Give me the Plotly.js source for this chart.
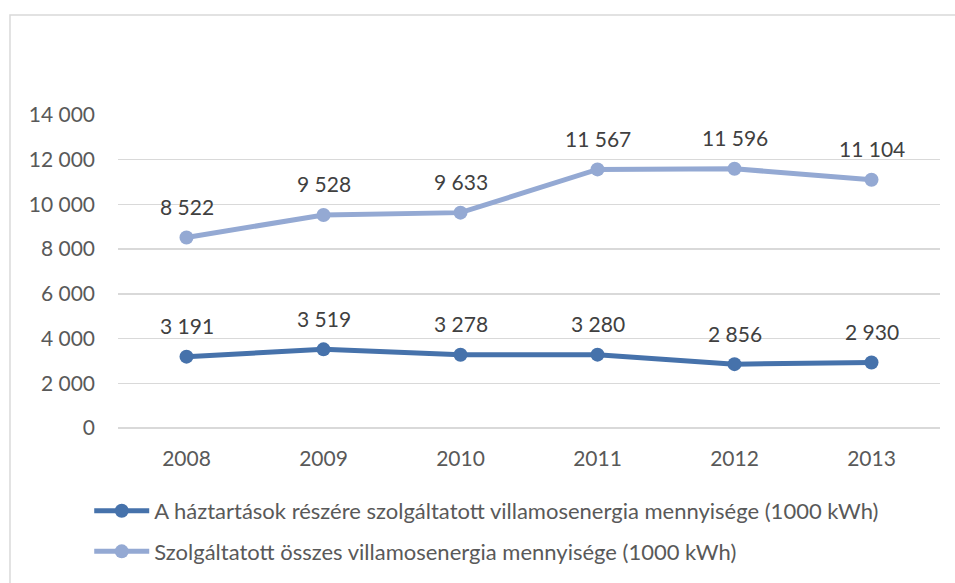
<!DOCTYPE html>
<html>
<head>
<meta charset="utf-8">
<script src="https://cdn.plot.ly/plotly-3.0.1.min.js"></script>
<style>
  html, body { margin: 0; padding: 0; background: #fff; }
  #chart { width: 955px; height: 583px; }
</style>
</head>
<body>
<div id="chart"></div>
<script>
const years = ["2008", "2009", "2010", "2011", "2012", "2013"];
const households = [3191, 3519, 3278, 3280, 2856, 2930];
const total = [8522, 9528, 9633, 11567, 11596, 11104];
const householdsName = "A háztartások részére szolgáltatott villamosenergia mennyisége (1000 kWh)";
const totalName = "Szolgáltatott összes villamosenergia mennyisége (1000 kWh)";

const darkBlue = "#4672ab";
const lightBlue = "#94a9d3";
const font = "Lato, 'Open Sans', sans-serif";

function fmt(v) {
  return String(v).replace(/\B(?=(\d{3})+(?!\d))/g, " ");
}

function series(name, values, color, group) {
  return {
    type: "scatter",
    mode: "lines+markers",
    name: name,
    legendgroup: group,
    x: years,
    y: values,
    line: { color: color, width: 5 },
    marker: { color: color, size: 14 },
    hoverinfo: "y"
  };
}

// data labels above each point (category index used for x)
function labels(values) {
  return values.map((v, i) => ({
    x: i, y: v, xref: "x", yref: "y",
    text: fmt(v), showarrow: false,
    yshift: 31,
    font: { family: font, size: 21, color: "#404040" }
  }));
}

const traces = [
  series(householdsName, households, darkBlue, "a"),
  series(totalName, total, lightBlue, "b")
];

const layout = {
  width: 955, height: 583,
  margin: { l: 118, r: 15, t: 115, b: 155, autoexpand: false },
  paper_bgcolor: "#fff", plot_bgcolor: "#fff",
  separators: ", ",
  font: { family: font, size: 21, color: "#595959" },
  showlegend: true,
  legend: {
    orientation: "v", x: -0.035, xanchor: "left", y: -0.198, yanchor: "top",
    font: { family: font, size: 22, color: "#595959" },
    tracegroupgap: 9, itemwidth: 55
  },
  xaxis: {
    type: "category", range: [-0.5, 5.5],
    showgrid: false, zeroline: false, showline: false,
    ticks: "", ticklabelstandoff: 16,
    tickfont: { family: font, size: 21, color: "#595959" }
  },
  yaxis: {
    range: [0, 14000], dtick: 2000, tickformat: ",",
    showgrid: true, gridcolor: "#d9d9d9", gridwidth: 1.5,
    zeroline: true, zerolinecolor: "#d9d9d9", zerolinewidth: 1.5,
    showline: false, ticks: "", ticklabelstandoff: 22,
    tickfont: { family: font, size: 21, color: "#595959" }
  },
  annotations: labels(households).concat(labels(total)),
  shapes: [{
    type: "rect", xref: "paper", yref: "paper",
    x0: -0.1314, x1: 1.2, y0: -1, y1: 1.3195,
    line: { color: "#d9d9d9", width: 1.5 }, fillcolor: "rgba(0,0,0,0)",
    layer: "below"
  }]
};

Plotly.newPlot("chart", traces, layout, { displayModeBar: false, staticPlot: true });
</script>
</body>
</html>
